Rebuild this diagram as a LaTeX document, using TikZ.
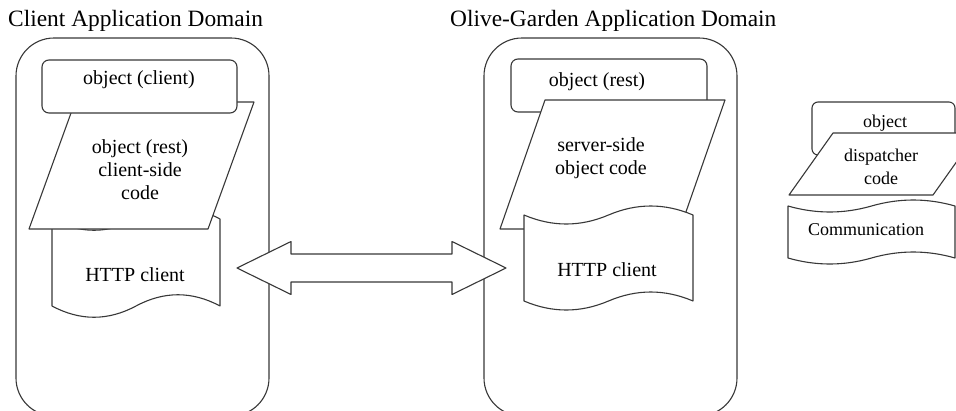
\documentclass[tikz,border=0pt]{standalone}
\usepackage{fontspec}
\setmainfont{Liberation Serif}

% punched-tape outline: left, right, top baseline, bottom baseline, wave amplitude
\newcommand\tapedraw[5]{%
  \draw[outline] (#1,#3)
    .. controls ({#1+(#2-#1)/6},{#3+#5}) and ({#1+(#2-#1)/3},{#3+#5}) .. ({(#1+#2)/2},#3)
    .. controls ({#1+2*(#2-#1)/3},{#3-#5}) and ({#1+5*(#2-#1)/6},{#3-#5}) .. (#2,#3)
    -- (#2,#4)
    .. controls ({#1+5*(#2-#1)/6},{#4-#5}) and ({#1+2*(#2-#1)/3},{#4-#5}) .. ({(#1+#2)/2},#4)
    .. controls ({#1+(#2-#1)/3},{#4+#5}) and ({#1+(#2-#1)/6},{#4+#5}) .. (#1,#4)
    -- cycle;}

\begin{document}
\begin{tikzpicture}[x=1pt,y=-1pt,
  outline/.style={draw=black!78, line width=1.1pt, fill=white, line join=round},
  domainbox/.style={outline, rounded corners=38pt},
  tagbox/.style={outline, rounded corners=7pt},
  lbl/.style={inner sep=0pt, align=center, font=\fontsize{20}{23}\selectfont},
  smalllbl/.style={inner sep=0pt, align=center, font=\fontsize{18}{23}\selectfont},
  title/.style={inner sep=0pt, anchor=base west, font=\fontsize{23.4}{28}\selectfont}]
\useasboundingbox (0,0) rectangle (956,410);
\clip (0,0) rectangle (956,410);

% domain titles
\node[title] (clienttitle) at (8,26) {Client Application Domain};
\node[title] (servertitle) at (450,26) {Olive-Garden Application Domain};

% domain frames
\draw[domainbox] (16,38) rectangle (269,416);
\draw[domainbox] (484,38) rectangle (737,416);

% client side stack
\tapedraw{52}{220}{219}{306}{15}
\draw[outline] (75,102) -- (254,102) -- (208,229) -- (29,229) -- cycle;
\draw[tagbox] (42,60) rectangle (237,113);

% server side stack
\draw[tagbox] (511,59) rectangle (707,112);
\draw[outline] (545,100) -- (725,100) -- (680,229) -- (500,229) -- cycle;
\tapedraw{524}{693}{215}{301}{12}

% legend stack
\draw[outline, rounded corners=6pt] (812,102) rectangle (955,155);
\draw[outline] (833,133) -- (977,133) -- (933,195) -- (789,195) -- cycle;
\tapedraw{788}{955}{206}{258}{8}

% two-way block arrow between the domains
\coordinate (linkL) at (237,268);
\coordinate (linkR) at (506,268);
\draw[outline] (linkL) -- ++(54,-26.5) -- ++(0,12.5) -- ++(161,0) -- ++(0,-12.5)
  -- (linkR) -- ++(-54,26.5) -- ++(0,-12.5) -- ++(-161,0) -- ++(0,12.5) -- cycle;

% labels
\node[lbl] (objclient) at (139,80) {object (client)};
\node[lbl] (clientcode) at (140,170) {object (rest)\\client-side\\code};
\node[lbl] (httpclient) at (135,275) {HTTP client};
\node[lbl] (objrest) at (597,82) {object (rest)};
\node[lbl] (servercode) at (601,158) {server-side\\object code};
\node[lbl] (httpserver) at (607,270) {HTTP client};
\node[smalllbl] (objlegend) at (885,123) {object};
\node[smalllbl] (dispatch) at (881,167) {dispatcher\\code};
\node[smalllbl] (comm) at (866,230) {Communication};
\end{tikzpicture}
\end{document}
